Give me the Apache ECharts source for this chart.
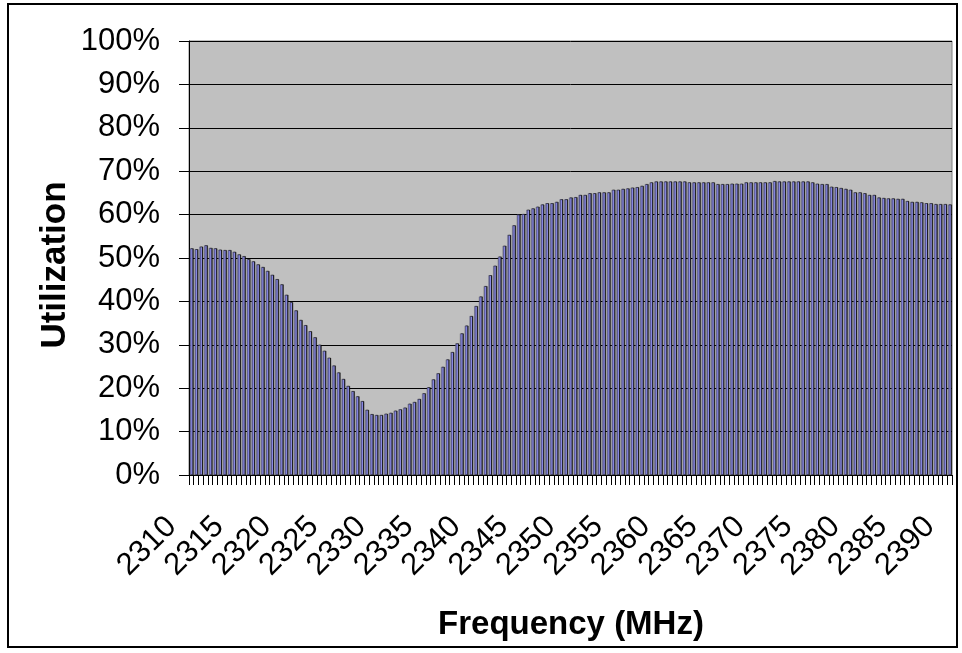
<!DOCTYPE html>
<html>
<head>
<meta charset="utf-8">
<script src="https://cdn.jsdelivr.net/npm/echarts@6/dist/echarts.min.js"></script>
<style>
html,body{margin:0;padding:0;background:#fff;}
#chart{width:962px;height:653px;}
</style>
</head>
<body>
<div id="chart"></div>
<script>
// Frequency categories 2310..2390 MHz in 0.5 MHz steps
const startFreq = 2310;
const stepFreq = 0.5;
// Utilization (%) per frequency bin
const utilization = [
  52.2, 52.0, 52.6, 52.9, 52.3, 52.2, 51.9, 51.8, 51.8, 51.4,
  50.8, 50.4, 49.7, 49.2, 48.5, 47.9, 47.0, 46.1, 45.1, 43.9,
  41.5, 39.8, 37.9, 35.7, 34.5, 33.1, 31.7, 30.0, 28.6, 27.0,
  25.2, 23.6, 22.1, 20.5, 19.3, 18.1, 17.0, 15.0, 14.0, 13.8,
  13.8, 14.1, 14.3, 14.8, 15.1, 15.5, 16.4, 16.8, 17.5, 18.8,
  20.2, 22.0, 23.4, 24.9, 26.6, 28.3, 30.3, 32.6, 34.4, 36.6,
  38.9, 41.1, 43.5, 46.0, 48.2, 50.3, 52.8, 55.3, 57.5, 60.0,
  60.1, 61.1, 61.4, 61.8, 62.3, 62.6, 62.6, 62.9, 63.5, 63.5,
  63.9, 64.0, 64.5, 64.5, 64.9, 64.9, 65.1, 65.1, 65.1, 65.7,
  65.7, 65.9, 66.0, 66.2, 66.3, 66.6, 67.0, 67.4, 67.6, 67.6,
  67.6, 67.6, 67.6, 67.6, 67.6, 67.4, 67.4, 67.4, 67.4, 67.4,
  67.4, 67.0, 67.0, 67.0, 67.1, 67.1, 67.1, 67.4, 67.4, 67.4,
  67.4, 67.4, 67.4, 67.7, 67.6, 67.6, 67.6, 67.6, 67.6, 67.6,
  67.6, 67.4, 67.1, 67.0, 67.0, 66.4, 66.3, 66.1, 65.9, 65.7,
  65.1, 65.1, 64.9, 64.5, 64.5, 63.9, 63.8, 63.7, 63.7, 63.6,
  63.6, 63.1, 62.9, 62.9, 62.8, 62.6, 62.6, 62.4, 62.4, 62.4,
  62.3
];
const frequencies = utilization.map((_, i) => String(startFreq + i * stepFreq));
const yTicks = { min: 0, max: 100, interval: 10 };
const xTitle = 'Frequency (MHz)';
const yTitle = 'Utilization';

const FONT = "'Liberation Sans', Arial, sans-serif";
const chart = echarts.init(document.getElementById('chart'), null, { renderer: 'canvas' });
chart.setOption({
  animation: false,
  backgroundColor: '#ffffff',
  grid: {
    left: 189, top: 41, right: 10, bottom: 178,
    show: true, backgroundColor: '#c0c0c0', borderColor: '#808080', borderWidth: 1
  },
  xAxis: {
    type: 'category',
    data: frequencies,
    boundaryGap: true,
    axisLine: { show: true, lineStyle: { color: '#000', width: 1 } },
    axisTick: { show: true, interval: 0, length: 10, lineStyle: { color: '#000', width: 1 } },
    axisLabel: {
      interval: 9, rotate: 45, margin: 27, padding: [0, 28, 0, 0],
      fontFamily: FONT, fontSize: 31, color: '#000'
    },
    splitLine: { show: false }
  },
  yAxis: {
    type: 'value',
    min: yTicks.min, max: yTicks.max, interval: yTicks.interval,
    axisLine: { show: true, lineStyle: { color: '#000', width: 1 } },
    axisTick: { show: true, inside: false, length: 10, lineStyle: { color: '#000', width: 1 } },
    axisLabel: { formatter: '{value}%', margin: 29, fontFamily: FONT, fontSize: 31, color: '#000' },
    splitLine: { show: true, lineStyle: { color: '#000', width: 1 } }
  },
  series: [{
    type: 'bar',
    data: utilization,
    barCategoryGap: '40%',
    itemStyle: {
      color: '#9999ff', borderColor: '#333', borderWidth: 0.4,
      shadowColor: '#000', shadowBlur: 0, shadowOffsetX: 0.8, shadowOffsetY: 0
    }
  }],
  graphic: [
    { type: 'rect', shape: { x: 8, y: 4, width: 949, height: 643 },
      style: { fill: 'none', stroke: '#000', lineWidth: 2 }, silent: true, z: 100 },
    { type: 'text', x: 55, y: 265, rotation: Math.PI / 2,
      style: { text: yTitle, font: "bold 35px 'Liberation Sans', Arial, sans-serif", fill: '#000',
               textAlign: 'center', textVerticalAlign: 'middle' } },
    { type: 'text', x: 571, y: 625,
      style: { text: xTitle, font: "bold 33px 'Liberation Sans', Arial, sans-serif", fill: '#000',
               textAlign: 'center', textVerticalAlign: 'middle' } }
  ]
});
</script>
</body>
</html>
